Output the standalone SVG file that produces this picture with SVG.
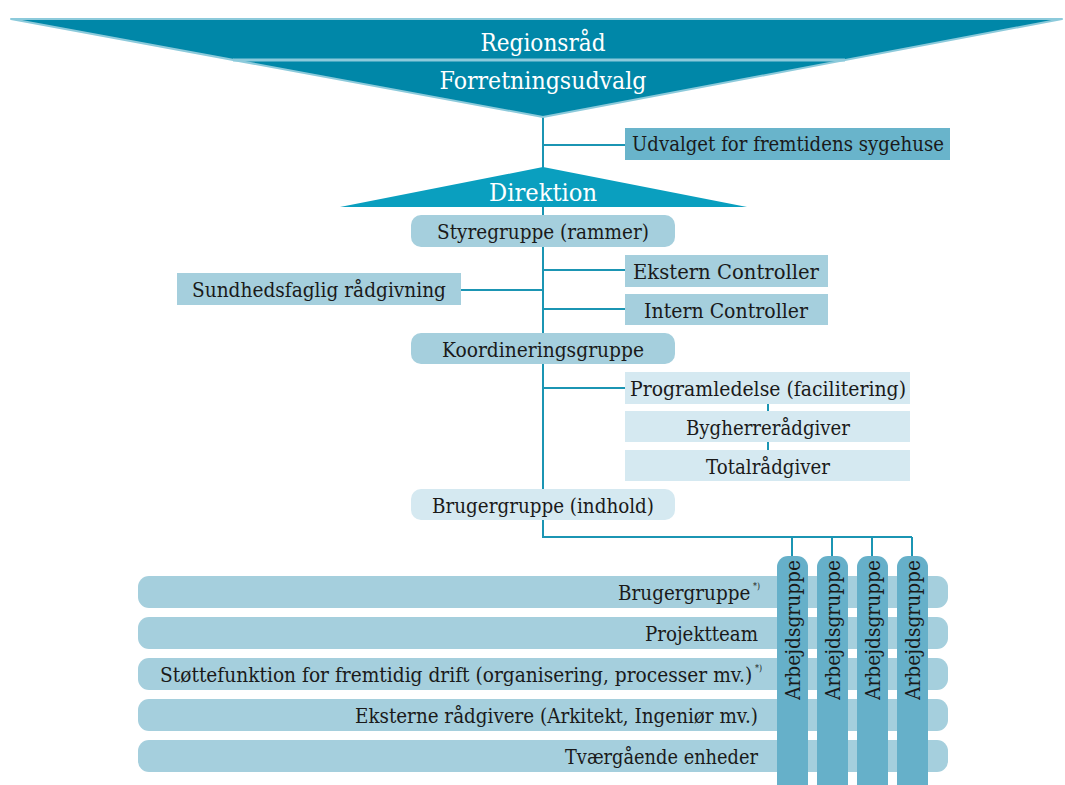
<svg xmlns="http://www.w3.org/2000/svg" width="1065" height="785" viewBox="0 0 1065 785">
<style>
text{font-family:"DejaVu Serif","Liberation Serif",Georgia,serif;font-size:21px;fill:#1a1a1a}
.w{fill:#ffffff;font-size:24px}
.c{text-anchor:middle}
.r{text-anchor:end}
.sup{font-size:9px}
.mid{fill:#a5cfdd}
.pale{fill:#d5e9f1}
.dark{fill:#69b4cb}
.col{fill:#66b0c9}
.ln{stroke:#1b95b3;stroke-width:2;fill:none}
</style>
<rect width="1065" height="785" fill="#ffffff"/>
<g id="connectors">
<path class="ln" d="M543 117 V537 H912 M792 537 V557 M832 537 V557 M872 537 V557 M912 537 V557"/>
<path class="ln" d="M543 145 H625 M543 270 H625 M543 309 H625 M461 290 H543 M543 388 H625"/>
<path class="ln" d="M768 404 V411 M768 442 V450" stroke-width="1.5"/>
</g>
<g id="regionsraad">
<polygon points="11,19 1062,19 543,117" fill="#0087a8" stroke="#8ccadb" stroke-width="2" stroke-linejoin="round"/>
<line x1="233" y1="60" x2="845" y2="60" stroke="#8ccadb" stroke-width="3"/>
<text class="w c" x="543" y="51" textLength="125" lengthAdjust="spacingAndGlyphs">Regionsråd</text>
<text class="w c" x="543" y="89" textLength="207" lengthAdjust="spacingAndGlyphs">Forretningsudvalg</text>
</g>
<g id="udvalget">
<rect class="dark" x="625" y="128" width="325" height="32"/>
<text class="c" x="788" y="151" textLength="312" lengthAdjust="spacingAndGlyphs">Udvalget for fremtidens sygehuse</text>
</g>
<g id="direktion">
<polygon points="340,207 747,207 543,167" fill="#0a9fbf"/>
<text class="w c" x="543" y="201" textLength="108" lengthAdjust="spacingAndGlyphs">Direktion</text>
</g>
<g id="styregruppe">
<rect class="mid" x="411" y="215" width="264" height="32" rx="10"/>
<text class="c" x="543" y="239" textLength="212" lengthAdjust="spacingAndGlyphs">Styregruppe (rammer)</text>
</g>
<g id="sundhedsfaglig">
<rect class="mid" x="177" y="273" width="284" height="32"/>
<text class="c" x="319" y="297" textLength="254" lengthAdjust="spacingAndGlyphs">Sundhedsfaglig rådgivning</text>
</g>
<g id="ekstern">
<rect class="mid" x="625" y="255" width="203" height="32"/>
<text class="c" x="726" y="279" textLength="186" lengthAdjust="spacingAndGlyphs">Ekstern Controller</text>
</g>
<g id="intern">
<rect class="mid" x="625" y="294" width="203" height="31"/>
<text class="c" x="726" y="318" textLength="164" lengthAdjust="spacingAndGlyphs">Intern Controller</text>
</g>
<g id="koordinering">
<rect class="mid" x="411" y="333" width="264" height="31" rx="10"/>
<text class="c" x="543" y="357" textLength="202" lengthAdjust="spacingAndGlyphs">Koordineringsgruppe</text>
</g>
<g id="programledelse">
<rect class="pale" x="625" y="372" width="285" height="32"/>
<text class="c" x="768" y="396" textLength="276" lengthAdjust="spacingAndGlyphs">Programledelse (facilitering)</text>
</g>
<g id="bygherre">
<rect class="pale" x="625" y="411" width="285" height="31"/>
<text class="c" x="768" y="435" textLength="164" lengthAdjust="spacingAndGlyphs">Bygherrerådgiver</text>
</g>
<g id="total">
<rect class="pale" x="625" y="450" width="285" height="31"/>
<text class="c" x="768" y="474" textLength="124" lengthAdjust="spacingAndGlyphs">Totalrådgiver</text>
</g>
<g id="brugergruppe-indhold">
<rect class="pale" x="411" y="489" width="264" height="31" rx="10"/>
<text class="c" x="543" y="513" textLength="222" lengthAdjust="spacingAndGlyphs">Brugergruppe (indhold)</text>
</g>
<g id="row-brugergruppe">
<rect class="mid" x="138" y="576" width="810" height="32" rx="11"/>
<text class="r" x="760" y="600" textLength="142" lengthAdjust="spacingAndGlyphs">Brugergruppe<tspan class="sup" dx="3" dy="-11">*)</tspan></text>
</g>
<g id="row-projektteam">
<rect class="mid" x="138" y="617" width="810" height="32" rx="11"/>
<text class="r" x="758" y="641" textLength="113" lengthAdjust="spacingAndGlyphs">Projektteam</text>
</g>
<g id="row-stoette">
<rect class="mid" x="138" y="658" width="810" height="32" rx="11"/>
<text x="160" y="682" textLength="602" lengthAdjust="spacingAndGlyphs">Støttefunktion for fremtidig drift (organisering, processer mv.)<tspan class="sup" dx="3" dy="-11">*)</tspan></text>
</g>
<g id="row-eksterne">
<rect class="mid" x="138" y="699" width="810" height="32" rx="11"/>
<text class="r" x="758" y="723" textLength="403" lengthAdjust="spacingAndGlyphs">Eksterne rådgivere (Arkitekt, Ingeniør mv.)</text>
</g>
<g id="row-tvaergaaende">
<rect class="mid" x="138" y="740" width="810" height="32" rx="11"/>
<text class="r" x="758" y="764" textLength="193" lengthAdjust="spacingAndGlyphs">Tværgående enheder</text>
</g>
<g id="arbejdsgruppe-1">
<rect class="col" x="777" y="556" width="31" height="240" rx="11"/>
<text transform="translate(800 700) rotate(-90)" textLength="140" lengthAdjust="spacingAndGlyphs">Arbejdsgruppe</text>
</g>
<g id="arbejdsgruppe-2">
<rect class="col" x="817" y="556" width="31" height="240" rx="11"/>
<text transform="translate(840 700) rotate(-90)" textLength="140" lengthAdjust="spacingAndGlyphs">Arbejdsgruppe</text>
</g>
<g id="arbejdsgruppe-3">
<rect class="col" x="857" y="556" width="31" height="240" rx="11"/>
<text transform="translate(880 700) rotate(-90)" textLength="140" lengthAdjust="spacingAndGlyphs">Arbejdsgruppe</text>
</g>
<g id="arbejdsgruppe-4">
<rect class="col" x="897" y="556" width="31" height="240" rx="11"/>
<text transform="translate(920 700) rotate(-90)" textLength="140" lengthAdjust="spacingAndGlyphs">Arbejdsgruppe</text>
</g>
</svg>
